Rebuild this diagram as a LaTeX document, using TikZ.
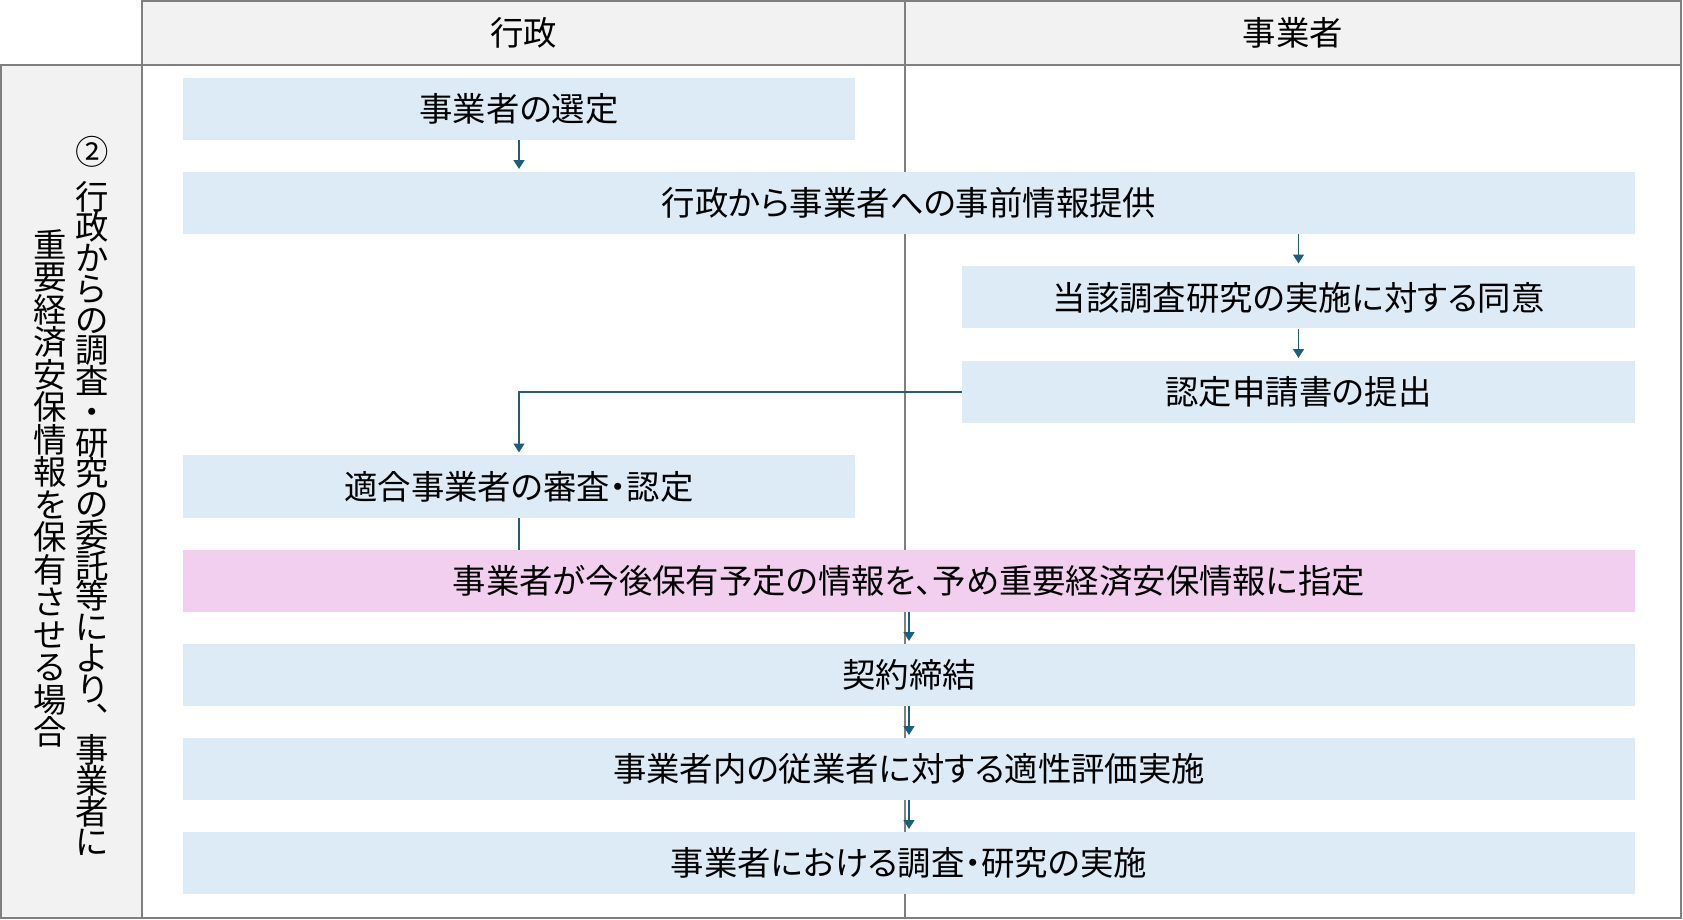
\documentclass[tikz,border=0pt]{standalone}
\usepackage{fontspec}
\setmainfont[RawFeature=+palt]{Noto Sans CJK JP}
\usepackage{xcolor}
\usepackage{tikz}
\usetikzlibrary{arrows.meta, backgrounds}

\definecolor{boxblue}{HTML}{DDEBF7}
\definecolor{boxpink}{HTML}{F2CEEF}
\definecolor{headgray}{HTML}{F2F2F2}
\definecolor{framegray}{HTML}{7F7F7F}
\definecolor{arrowblue}{HTML}{1B5E80}

\tikzset{
  stepbox/.style={rectangle, fill=boxblue, minimum height=1.24cm, inner sep=0pt},
  flow/.style={draw=arrowblue, line width=1.1pt, -{Triangle[width=6pt,length=5pt]}, shorten >=1.5pt},
  frame/.style={draw=framegray, line width=1.1pt},
  vtitle/.style={align=center, inner sep=0pt},
}

\begin{document}
\begin{tikzpicture}[font=\fontsize{19}{20}\selectfont]
\useasboundingbox (0,0) rectangle (33.66,-18.4);

% table frame and lanes
\draw[frame, fill=headgray] (2.84,-0.02) rectangle (33.62,-1.3);
\draw[frame, fill=headgray] (0.02,-1.3) rectangle (2.84,-18.36);
\draw[frame] (2.84,-1.3) rectangle (33.62,-18.36);
\draw[framegray, line width=0.6pt] (18.1,-0.02) -- (18.1,-18.36);

\node (gyosei) at (10.47,-0.66) {行政};
\node (jigyosha) at (25.86,-0.66) {事業者};

% vertical title
\node[vtitle, font={\fontsize{19}{17.5}\selectfont\lineskiplimit=-20pt\relax}] (sideA) at (1.84,-9.92) {②\\[8pt]行\\政\\か\\ら\\の\\調\\査\\・\\研\\究\\の\\委\\託\\等\\に\\よ\\り\\︑\\事\\業\\者\\に};
\node[vtitle, font={\fontsize{19}{18.5}\selectfont\lineskiplimit=-20pt\relax}] (sideB) at (1.0,-9.77) {重\\要\\経\\済\\安\\保\\情\\報\\を\\保\\有\\さ\\せ\\る\\場\\合};

% steps
\node[stepbox, minimum width=13.44cm] (select) at (10.38,-2.18) {事業者の選定};
\node[stepbox, minimum width=29.04cm] (preinfo) at (18.18,-4.06) {行政から事業者への事前情報提供};
\node[stepbox, minimum width=13.46cm] (consent) at (25.97,-5.95) {当該調査研究の実施に対する同意};
\node[stepbox, minimum width=13.46cm] (apply) at (25.97,-7.84) {認定申請書の提出};
\node[stepbox, minimum width=13.44cm] (review) at (10.38,-9.73) {適合事業者の審査・認定};
\node[stepbox, minimum width=29.04cm, fill=boxpink] (designate) at (18.18,-11.62) {事業者が今後保有予定の情報を、予め重要経済安保情報に指定};
\node[stepbox, minimum width=29.04cm] (contract) at (18.18,-13.5) {契約締結};
\node[stepbox, minimum width=29.04cm] (evaluate) at (18.18,-15.38) {事業者内の従業者に対する適性評価実施};
\node[stepbox, minimum width=29.04cm] (research) at (18.18,-17.26) {事業者における調査・研究の実施};

% arrows
\draw[flow] (select) -- (select |- preinfo.north);
\draw[flow] (consent |- preinfo.south) -- (consent);
\draw[flow] (consent) -- (apply);
\draw[flow] (apply) -| (review);
\begin{scope}[on background layer]
\draw[flow, shorten >=-6pt] (review) -- (review |- designate.north);
\end{scope}
\draw[flow] (designate) -- (contract);
\draw[flow] (contract) -- (evaluate);
\draw[flow] (evaluate) -- (research);
\end{tikzpicture}
\end{document}
